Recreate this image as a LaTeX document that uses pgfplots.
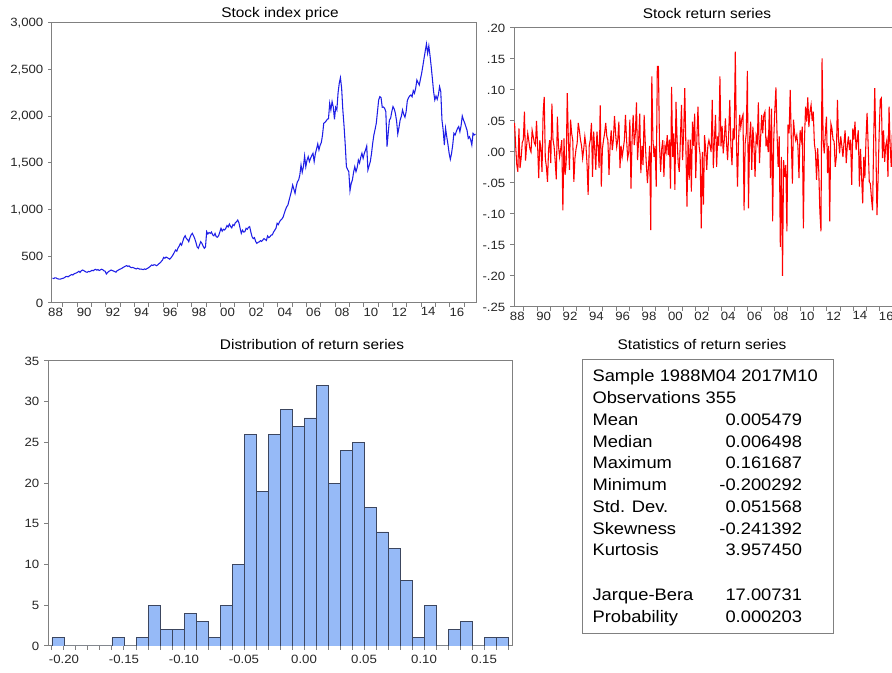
\documentclass[border=0pt]{standalone}
\usepackage{fontspec}
\setmainfont[FakeStretch=1.1]{Liberation Sans}
\usepackage{pgfplots}
\usepackage{pgfplotstable}
\pgfplotsset{compat=1.18}

\definecolor{axisgray}{RGB}{128,128,128}
\definecolor{priceblue}{RGB}{30,30,230}
\definecolor{retred}{RGB}{255,0,0}
\definecolor{histfill}{RGB}{150,186,247}
\definecolor{histedge}{RGB}{60,70,95}

% monthly index level, 1988M04 -- 2017M10
\pgfplotstableread[row sep=\\]{
price\\
265\\ 262\\ 270\\ 268\\ 260\\ 257\\ 255\\ 258\\ 262\\
266\\ 272\\ 282\\ 285\\ 280\\ 290\\ 298\\ 305\\ 300\\ 312\\ 318\\ 322\\
330\\ 340\\ 328\\ 345\\ 353\\ 348\\ 340\\ 332\\ 329\\ 338\\ 335\\ 342\\
350\\ 345\\ 355\\ 361\\ 352\\ 358\\ 348\\ 354\\ 362\\ 356\\ 345\\ 340\\
311\\ 325\\ 338\\ 345\\ 353\\ 348\\ 342\\ 337\\ 330\\ 345\\ 352\\ 360\\
365\\ 372\\ 380\\ 388\\ 395\\ 400\\ 392\\ 398\\ 385\\ 378\\ 382\\ 376\\
370\\ 365\\ 372\\ 368\\ 362\\ 364\\ 360\\ 358\\ 365\\ 360\\ 368\\ 375\\
385\\ 395\\ 407\\ 402\\ 410\\ 407\\ 400\\ 407\\ 420\\ 430\\ 445\\ 460\\
489\\ 480\\ 492\\ 485\\ 478\\ 470\\ 482\\ 500\\ 520\\ 545\\ 568\\ 555\\
590\\ 610\\ 639\\ 620\\ 660\\ 700\\ 721\\ 690\\ 680\\ 657\\ 700\\ 730\\
746\\ 720\\ 690\\ 650\\ 600\\ 586\\ 620\\ 657\\ 640\\ 610\\ 586\\ 600\\
764\\ 740\\ 755\\ 746\\ 760\\ 730\\ 720\\ 745\\ 710\\ 705\\ 720\\ 760\\
800\\ 770\\ 790\\ 782\\ 800\\ 830\\ 815\\ 846\\ 820\\ 805\\ 840\\ 830\\
860\\ 870\\ 889\\ 860\\ 800\\ 746\\ 780\\ 760\\ 764\\ 800\\ 790\\ 810\\
818\\ 760\\ 710\\ 690\\ 700\\ 660\\ 639\\ 650\\ 655\\ 668\\ 660\\ 675\\
690\\ 680\\ 670\\ 718\\ 700\\ 710\\ 728\\ 730\\ 760\\ 780\\ 800\\ 854\\
840\\ 870\\ 889\\ 900\\ 920\\ 961\\ 1000\\ 1030\\ 1050\\ 1100\\ 1150\\ 1200\\
1264\\ 1220\\ 1175\\ 1250\\ 1300\\ 1318\\ 1372\\ 1479\\ 1400\\ 1460\\ 1575\\ 1460\\
1530\\ 1568\\ 1515\\ 1550\\ 1580\\ 1604\\ 1515\\ 1600\\ 1650\\ 1704\\ 1640\\ 1690\\
1720\\ 1800\\ 1925\\ 1935\\ 1950\\ 1968\\ 1975\\ 2140\\ 2068\\ 2158\\ 2100\\ 1968\\
2097\\ 2068\\ 2250\\ 2354\\ 2414\\ 2300\\ 2068\\ 1900\\ 1700\\ 1460\\ 1430\\ 1407\\
1203\\ 1280\\ 1318\\ 1400\\ 1460\\ 1407\\ 1450\\ 1532\\ 1500\\ 1560\\ 1604\\ 1550\\
1604\\ 1640\\ 1682\\ 1425\\ 1470\\ 1515\\ 1600\\ 1711\\ 1800\\ 1860\\ 1925\\ 2050\\
2175\\ 2211\\ 2200\\ 2097\\ 2100\\ 2086\\ 2050\\ 1675\\ 1820\\ 1961\\ 1979\\ 2050\\
2104\\ 2080\\ 2032\\ 1950\\ 1811\\ 1880\\ 1961\\ 2000\\ 2068\\ 2020\\ 1990\\ 2050\\
2168\\ 2200\\ 2218\\ 2229\\ 2210\\ 2275\\ 2247\\ 2300\\ 2389\\ 2360\\ 2336\\ 2400\\
2461\\ 2540\\ 2621\\ 2700\\ 2775\\ 2675\\ 2754\\ 2650\\ 2532\\ 2400\\ 2264\\ 2175\\
2218\\ 2182\\ 2230\\ 2318\\ 2264\\ 1961\\ 1854\\ 1693\\ 1872\\ 1782\\ 1700\\ 1604\\
1540\\ 1600\\ 1693\\ 1818\\ 1800\\ 1836\\ 1870\\ 1890\\ 1836\\ 1900\\ 2004\\ 1961\\
1930\\ 1890\\ 1850\\ 1764\\ 1782\\ 1750\\ 1693\\ 1818\\ 1800\\ 1811\\
}\pricetab

% monthly log returns, same sample
\pgfplotstableread[row sep=\\]{
ret\\
0.047\\ 0.010\\ -0.020\\ -0.032\\ 0.038\\ -0.026\\ -0.010\\ 0.015\\ 0.020\\ 0.065\\
-0.014\\ 0.010\\ 0.030\\ 0.018\\ 0.005\\ 0.000\\ 0.035\\ 0.025\\ 0.015\\ 0.011\\
0.050\\ 0.010\\ -0.042\\ 0.019\\ 0.005\\ -0.032\\ 0.062\\ 0.089\\ -0.010\\ -0.024\\
-0.048\\ 0.005\\ 0.019\\ -0.018\\ 0.078\\ 0.020\\ 0.009\\ -0.015\\ -0.044\\ 0.057\\
0.010\\ -0.008\\ 0.005\\ 0.019\\ -0.094\\ 0.022\\ -0.037\\ -0.018\\ 0.095\\ 0.020\\
-0.029\\ 0.052\\ 0.030\\ 0.019\\ -0.048\\ -0.010\\ 0.005\\ 0.014\\ 0.047\\ 0.035\\
0.020\\ 0.010\\ -0.010\\ 0.005\\ 0.025\\ 0.011\\ -0.020\\ -0.069\\ 0.010\\ 0.020\\
0.047\\ -0.040\\ 0.033\\ 0.005\\ -0.029\\ 0.033\\ 0.010\\ -0.026\\ 0.075\\ -0.056\\
0.005\\ 0.019\\ 0.030\\ 0.047\\ 0.025\\ 0.019\\ -0.037\\ 0.010\\ 0.035\\ 0.003\\
0.020\\ 0.058\\ 0.030\\ 0.008\\ 0.020\\ 0.049\\ -0.026\\ 0.010\\ -0.008\\ 0.005\\
0.019\\ 0.060\\ 0.020\\ -0.010\\ 0.000\\ 0.052\\ -0.059\\ 0.020\\ 0.060\\ 0.011\\
0.030\\ 0.080\\ -0.013\\ 0.020\\ 0.062\\ -0.034\\ 0.010\\ -0.021\\ 0.060\\ 0.015\\
-0.020\\ -0.050\\ -0.021\\ 0.010\\ -0.126\\ 0.122\\ 0.020\\ -0.008\\ 0.010\\ -0.056\\
0.138\\ 0.138\\ 0.010\\ -0.032\\ 0.005\\ 0.019\\ -0.040\\ 0.010\\ 0.000\\ 0.027\\
-0.005\\ 0.020\\ -0.059\\ 0.105\\ -0.008\\ 0.030\\ -0.061\\ 0.081\\ 0.020\\ -0.018\\
-0.032\\ 0.020\\ 0.076\\ -0.013\\ 0.030\\ 0.103\\ 0.010\\ -0.088\\ 0.020\\ -0.045\\
0.020\\ -0.064\\ 0.049\\ 0.010\\ 0.062\\ -0.042\\ 0.020\\ 0.073\\ 0.010\\ -0.005\\
-0.123\\ 0.000\\ -0.085\\ 0.027\\ 0.005\\ -0.029\\ 0.010\\ 0.019\\ 0.010\\ 0.000\\
0.084\\ -0.026\\ 0.020\\ 0.060\\ -0.024\\ 0.025\\ 0.010\\ 0.122\\ 0.009\\ 0.042\\
-0.002\\ 0.020\\ 0.054\\ 0.015\\ -0.013\\ 0.030\\ 0.084\\ 0.009\\ -0.021\\ 0.038\\
0.020\\ 0.162\\ 0.020\\ -0.056\\ 0.020\\ 0.060\\ 0.040\\ 0.054\\ 0.060\\ -0.094\\
0.014\\ 0.030\\ 0.131\\ -0.091\\ 0.020\\ 0.049\\ -0.029\\ 0.041\\ 0.010\\ -0.040\\
0.025\\ 0.015\\ 0.080\\ -0.018\\ 0.020\\ 0.060\\ 0.030\\ 0.060\\ 0.065\\ 0.009\\
0.020\\ 0.000\\ 0.073\\ -0.042\\ 0.070\\ -0.112\\ 0.020\\ 0.068\\ 0.104\\ 0.030\\
-0.024\\ 0.025\\ -0.153\\ -0.008\\ -0.200\\ -0.013\\ -0.040\\ -0.021\\ -0.128\\ 0.044\\
0.030\\ 0.100\\ 0.020\\ -0.051\\ 0.052\\ 0.030\\ 0.019\\ 0.027\\ 0.010\\ -0.042\\
0.035\\ 0.020\\ 0.041\\ -0.123\\ 0.020\\ 0.073\\ 0.049\\ 0.088\\ 0.040\\ 0.065\\
0.076\\ 0.050\\ 0.065\\ 0.014\\ 0.000\\ -0.045\\ 0.006\\ -0.030\\ -0.096\\ -0.128\\
0.151\\ 0.020\\ -0.002\\ 0.030\\ 0.057\\ -0.034\\ 0.010\\ -0.112\\ 0.046\\ 0.038\\
0.020\\ 0.017\\ -0.024\\ -0.008\\ 0.084\\ 0.020\\ -0.002\\ 0.025\\ 0.010\\ -0.008\\
0.015\\ 0.035\\ -0.018\\ 0.010\\ 0.025\\ 0.003\\ 0.020\\ -0.053\\ 0.038\\ 0.020\\
0.049\\ 0.003\\ 0.020\\ 0.035\\ -0.056\\ 0.005\\ -0.040\\ -0.083\\ -0.008\\ -0.042\\
0.020\\ 0.063\\ 0.010\\ -0.048\\ -0.051\\ -0.075\\ -0.094\\ 0.020\\ 0.103\\ 0.010\\
-0.102\\ -0.045\\ 0.030\\ 0.084\\ 0.087\\ -0.010\\ 0.035\\ -0.016\\ 0.010\\ 0.019\\
-0.040\\ 0.073\\ 0.010\\ -0.024\\ 0.030\\ -0.010\\ 0.020\\ 0.015\\ -0.030\\ 0.040\\
0.010\\ -0.020\\ 0.025\\ 0.005\\ 0.015\\
}\rettab

% histogram of returns, bins of width 0.01 (left edge, count)
\pgfplotstableread[row sep=\\]{
lo count\\
-0.21 1\\ -0.20 0\\ -0.19 0\\ -0.18 0\\ -0.17 0\\ -0.16 1\\ -0.15 0\\ -0.14 1\\
-0.13 5\\ -0.12 2\\ -0.11 2\\ -0.10 4\\ -0.09 3\\ -0.08 1\\ -0.07 5\\ -0.06 10\\
-0.05 26\\ -0.04 19\\ -0.03 26\\ -0.02 29\\ -0.01 27\\ 0.00 28\\ 0.01 32\\ 0.02 20\\
0.03 24\\ 0.04 25\\ 0.05 17\\ 0.06 14\\ 0.07 12\\ 0.08 8\\ 0.09 1\\ 0.10 5\\
0.11 0\\ 0.12 2\\ 0.13 3\\ 0.14 0\\ 0.15 1\\ 0.16 1\\ 0.17 0\\
}\histtab

\pgfplotsset{
  panel/.style={
    scale only axis, anchor=south west,
    axis line style={axisgray, line width=0.75pt},
    tick style={axisgray, line width=0.75pt},
    tick align=outside, major tick length=3pt, minor tick length=3pt,
    tick pos=left,
    tick label style={font=\fontsize{9}{10}\selectfont, text=black!85},
  },
  datepanel/.style={
    panel,
    xmin=1988.25, xmax=2017.8333,
    xtick={1989,...,2017}, xticklabels={},
    extra x ticks={1988.5,1990.5,...,2016.5},
    extra x tick labels={88,90,92,94,96,98,00,02,04,06,08,10,12,14,16},
    extra x tick style={major tick length=0pt},
  },
}

\newcommand{\titlefont}{\fontsize{10.5}{12}\selectfont}
\newcommand{\statfont}{\fontsize{12.5}{15}\selectfont}

\begin{document}
\begin{tikzpicture}

% index level
\begin{axis}[datepanel, at={(39pt,277.5pt)}, width=318pt, height=210pt,
  ymin=0, ymax=3000,
  ytick={0,500,1000,1500,2000,2500,3000},
  yticklabels={0,500,{1,000},{1,500},{2,000},{2,500},{3,000}}]
  \addplot[priceblue, line width=0.8pt, mark=none]
    table[x expr={1988.25+(\coordindex+0.5)/12}, y=price]{\pricetab};
\end{axis}

% returns
\begin{axis}[datepanel, at={(385.5pt,274.5pt)}, width=292.4pt, height=209.25pt,
  ymin=-0.25, ymax=0.2,
  ytick={-0.25,-0.2,-0.15,-0.1,-0.05,0,0.05,0.1,0.15,0.2},
  yticklabels={-.25,-.20,-.15,-.10,-.05,.00,.05,.10,.15,.20}]
  \addplot[retred, line width=0.8pt, mark=none]
    table[x expr={1988.25+(\coordindex+0.5)/12}, y=ret]{\rettab};
\end{axis}

% histogram
\begin{axis}[panel, at={(36pt,20.25pt)}, width=348pt, height=213.75pt,
  xmin=-0.21333, xmax=0.17333, ymin=0, ymax=35,
  xtick={-0.2,-0.15,-0.1,-0.05,0,0.05,0.1,0.15},
  xticklabels={-0.20,-0.15,-0.10,-0.05,0.00,0.05,0.10,0.15},
  minor xtick={-0.21,-0.19,-0.18,-0.17,-0.16,-0.14,-0.13,-0.12,-0.11,-0.09,-0.08,-0.07,-0.06,-0.04,-0.03,-0.02,-0.01,0.01,0.02,0.03,0.04,0.06,0.07,0.08,0.09,0.11,0.12,0.13,0.14,0.16,0.17},
  ytick={0,5,10,15,20,25,30,35},
  yticklabels={0,5,10,15,20,25,30,35}]
  \addplot[ybar interval, fill=histfill, draw=histedge, line width=0.6pt]
    table[x=lo, y=count]{\histtab};
\end{axis}

% panel titles
\node[anchor=base, font=\titlefont] at (210pt,491.25pt) {Stock index price};
\node[anchor=base, font=\titlefont] at (530.25pt,490.5pt) {Stock return series};
\node[anchor=base, font=\titlefont] at (234pt,242.25pt) {Distribution of return series};
\node[anchor=base, font=\titlefont] at (526.5pt,242.25pt) {Statistics of return series};

% summary statistics
\draw[axisgray, line width=0.75pt] (437pt,29.8pt) rectangle (625pt,235.3pt);
\begin{scope}[every node/.style={inner sep=0pt, font=\statfont}]
  \node[anchor=base west] at (444.2pt,218.25pt) {Sample 1988M04 2017M10};
  \node[anchor=base west] at (444.2pt,201.94pt) {Observations 355};
  \foreach \lab/\val/\yy in {Mean/0.005479/185.63, Median/0.006498/169.31,
      Maximum/0.161687/153.0, Minimum/-0.200292/136.69,
      Std. Dev./0.051568/120.38, Skewness/-0.241392/104.06,
      Kurtosis/3.957450/87.75, Jarque-Bera/17.00731/54.4,
      Probability/0.000203/38.1} {
    \node[anchor=base west] at (444.2pt,\yy pt) {\lab};
    \node[anchor=base east] at (601.7pt,\yy pt) {\val};
  }
\end{scope}

\pgfresetboundingbox
\useasboundingbox (0pt,0pt) rectangle (669pt,504.75pt);
\end{tikzpicture}
\end{document}
